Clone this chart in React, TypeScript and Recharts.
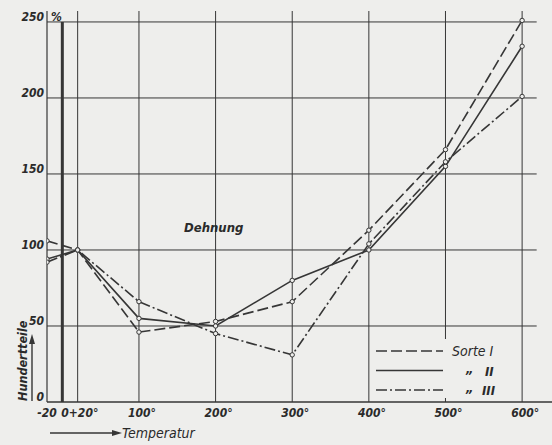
import React from 'react';
import { LineChart, Line, XAxis, YAxis, ReferenceLine } from 'recharts';

// Temperatur (°C)
const temps = [-20, 20, 100, 200, 300, 400, 500, 600];
// Dehnung in Hundertteilen (%)
const sorteI = [106, 100, 46, 53, 66, 113, 166, 251];
const sorteII = [94, 100, 55, 50, 80, 100, 155, 234];
const sorteIII = [92, 100, 66, 45, 31, 104, 158, 201];

const xTicks = [-20, 0, 20, 100, 200, 300, 400, 500, 600];
const yTicks = [0, 50, 100, 150, 200, 250];
const gridX = [20, 100, 200, 300, 400, 500, 600];
const gridY = [50, 100, 150, 200, 250];

const BG = '#eeeeec';
const INK = '#363636';
const TXT = '#2a2a2a';
const FONT = '"DejaVu Sans Condensed", "DejaVu Sans", sans-serif';

const series = [
  { key: 's1', label: 'Sorte I', dash: '11 4' },
  { key: 's2', label: 'II', dash: undefined as string | undefined },
  { key: 's3', label: 'III', dash: '11 3 2 3' },
];

const data = temps.map((t, i) => ({ t, s1: sorteI[i], s2: sorteII[i], s3: sorteIII[i] }));

const X_MAX = 639;
const Y_MAX = 257.2;
const GRID_RIGHT = 619;

const tickStyle = { fontFamily: FONT, fontSize: 12, fontStyle: 'italic', fontWeight: 'bold', fill: TXT } as any;

const XTick = (props: any) => {
  const { x, y, payload } = props;
  const v = payload.value;
  if (v === 20) return <g />;
  if (v === -20)
    return (
      <text x={x} y={y + 15} textAnchor="middle" style={tickStyle}>
        -20
      </text>
    );
  if (v === 0)
    return (
      <text x={x - 1} y={y + 15} textAnchor="start" style={tickStyle}>
        0+20°
      </text>
    );
  return (
    <text x={x + 3} y={y + 15} textAnchor="middle" style={tickStyle}>
      {`${v}°`}
    </text>
  );
};

const YTick = (props: any) => {
  const { x, y, payload } = props;
  const v = payload.value;
  return (
    <g>
      <text x={x} y={y - 1} textAnchor="end" style={tickStyle}>
        {v}
      </text>
      {v === 250 && (
        <text x={x + 7} y={y - 1} textAnchor="start" style={tickStyle}>
          %
        </text>
      )}
    </g>
  );
};

export default function App() {
  const textStyle = { fontFamily: FONT, fontSize: 14, fontStyle: 'italic', fill: TXT } as any;
  const boldStyle = { ...textStyle, fontSize: 13, fontWeight: 'bold' };
  return (
    <div style={{ position: 'absolute', left: 0, top: 0, width: 552, height: 445, background: BG }}>
      <LineChart width={552} height={445} data={data} margin={{ top: 11, right: 0, bottom: 0, left: 0 }}>
        <XAxis
          type="number"
          dataKey="t"
          domain={[-20, X_MAX]}
          ticks={xTicks}
          interval={0}
          allowDataOverflow
          tickLine={false}
          tickSize={0}
          tickMargin={0}
          axisLine={{ stroke: INK, strokeWidth: 1.4 }}
          tick={<XTick />}
          height={43}
        />
        <YAxis
          type="number"
          domain={[0, Y_MAX]}
          ticks={yTicks}
          interval={0}
          allowDataOverflow
          tickLine={false}
          tickSize={0}
          tickMargin={3}
          axisLine={{ stroke: INK, strokeWidth: 1.2 }}
          tick={<YTick />}
          width={47}
        />
        {gridY.map((v) => (
          <ReferenceLine
            key={'h' + v}
            segment={[{ x: -20, y: v }, { x: GRID_RIGHT, y: v }]}
            stroke={INK}
            strokeWidth={1}
            ifOverflow="visible"
          />
        ))}
        {gridX.map((v) => (
          <ReferenceLine
            key={'v' + v}
            segment={[{ x: v, y: 0 }, { x: v, y: Y_MAX }]}
            stroke={INK}
            strokeWidth={1}
            ifOverflow="visible"
          />
        ))}
        <ReferenceLine segment={[{ x: 0, y: 0 }, { x: 0, y: 250 }]} stroke={INK} strokeWidth={3} ifOverflow="visible" />
        {series.map((s) => (
          <Line
            key={s.key}
            type="linear"
            dataKey={s.key}
            stroke={INK}
            strokeWidth={1.6}
            strokeDasharray={s.dash}
            dot={{ r: 2.2, fill: BG, stroke: INK, strokeWidth: 1, strokeDasharray: 'none' }}
            isAnimationActive={false}
          />
        ))}
      </LineChart>
      <svg
        width={552}
        height={445}
        style={{ position: 'absolute', left: 0, top: 0, pointerEvents: 'none' }}
      >
        {/* Dehnung label */}
        <text x={184} y={232} style={boldStyle}>
          Dehnung
        </text>
        {/* Y axis title */}
        <text x={27} y={401} transform="rotate(-90 27 401)" style={{ ...boldStyle, fontSize: 12.5 }}>
          Hundertteile
        </text>
        <line x1={32} y1={401} x2={32} y2={342} stroke={INK} strokeWidth={1.4} />
        <polygon points="32,334 29,344 35,344" fill={INK} />
        {/* X axis title */}
        <line x1={50} y1={433} x2={114} y2={433} stroke={INK} strokeWidth={1.4} />
        <polygon points="122,433 112,430 112,436" fill={INK} />
        <text x={122} y={438} style={textStyle}>
          Temperatur
        </text>
        {/* Legend */}
        <rect x={373} y={339} width={133} height={59} fill={BG} />
        {series.map((s, i) => {
          const y = 351 + i * 19.5;
          return (
            <g key={s.key}>
              <line x1={376} y1={y} x2={443} y2={y} stroke={INK} strokeWidth={1.6} strokeDasharray={s.dash} />
              {i === 0 ? (
                <text x={452} y={y + 5} style={textStyle}>
                  {s.label}
                </text>
              ) : (
                <g>
                  <text x={466} y={y + 2} style={boldStyle}>
                    „
                  </text>
                  <text x={i === 1 ? 485 : 482} y={y + 5} style={boldStyle}>
                    {s.label}
                  </text>
                </g>
              )}
            </g>
          );
        })}
      </svg>
    </div>
  );
}
